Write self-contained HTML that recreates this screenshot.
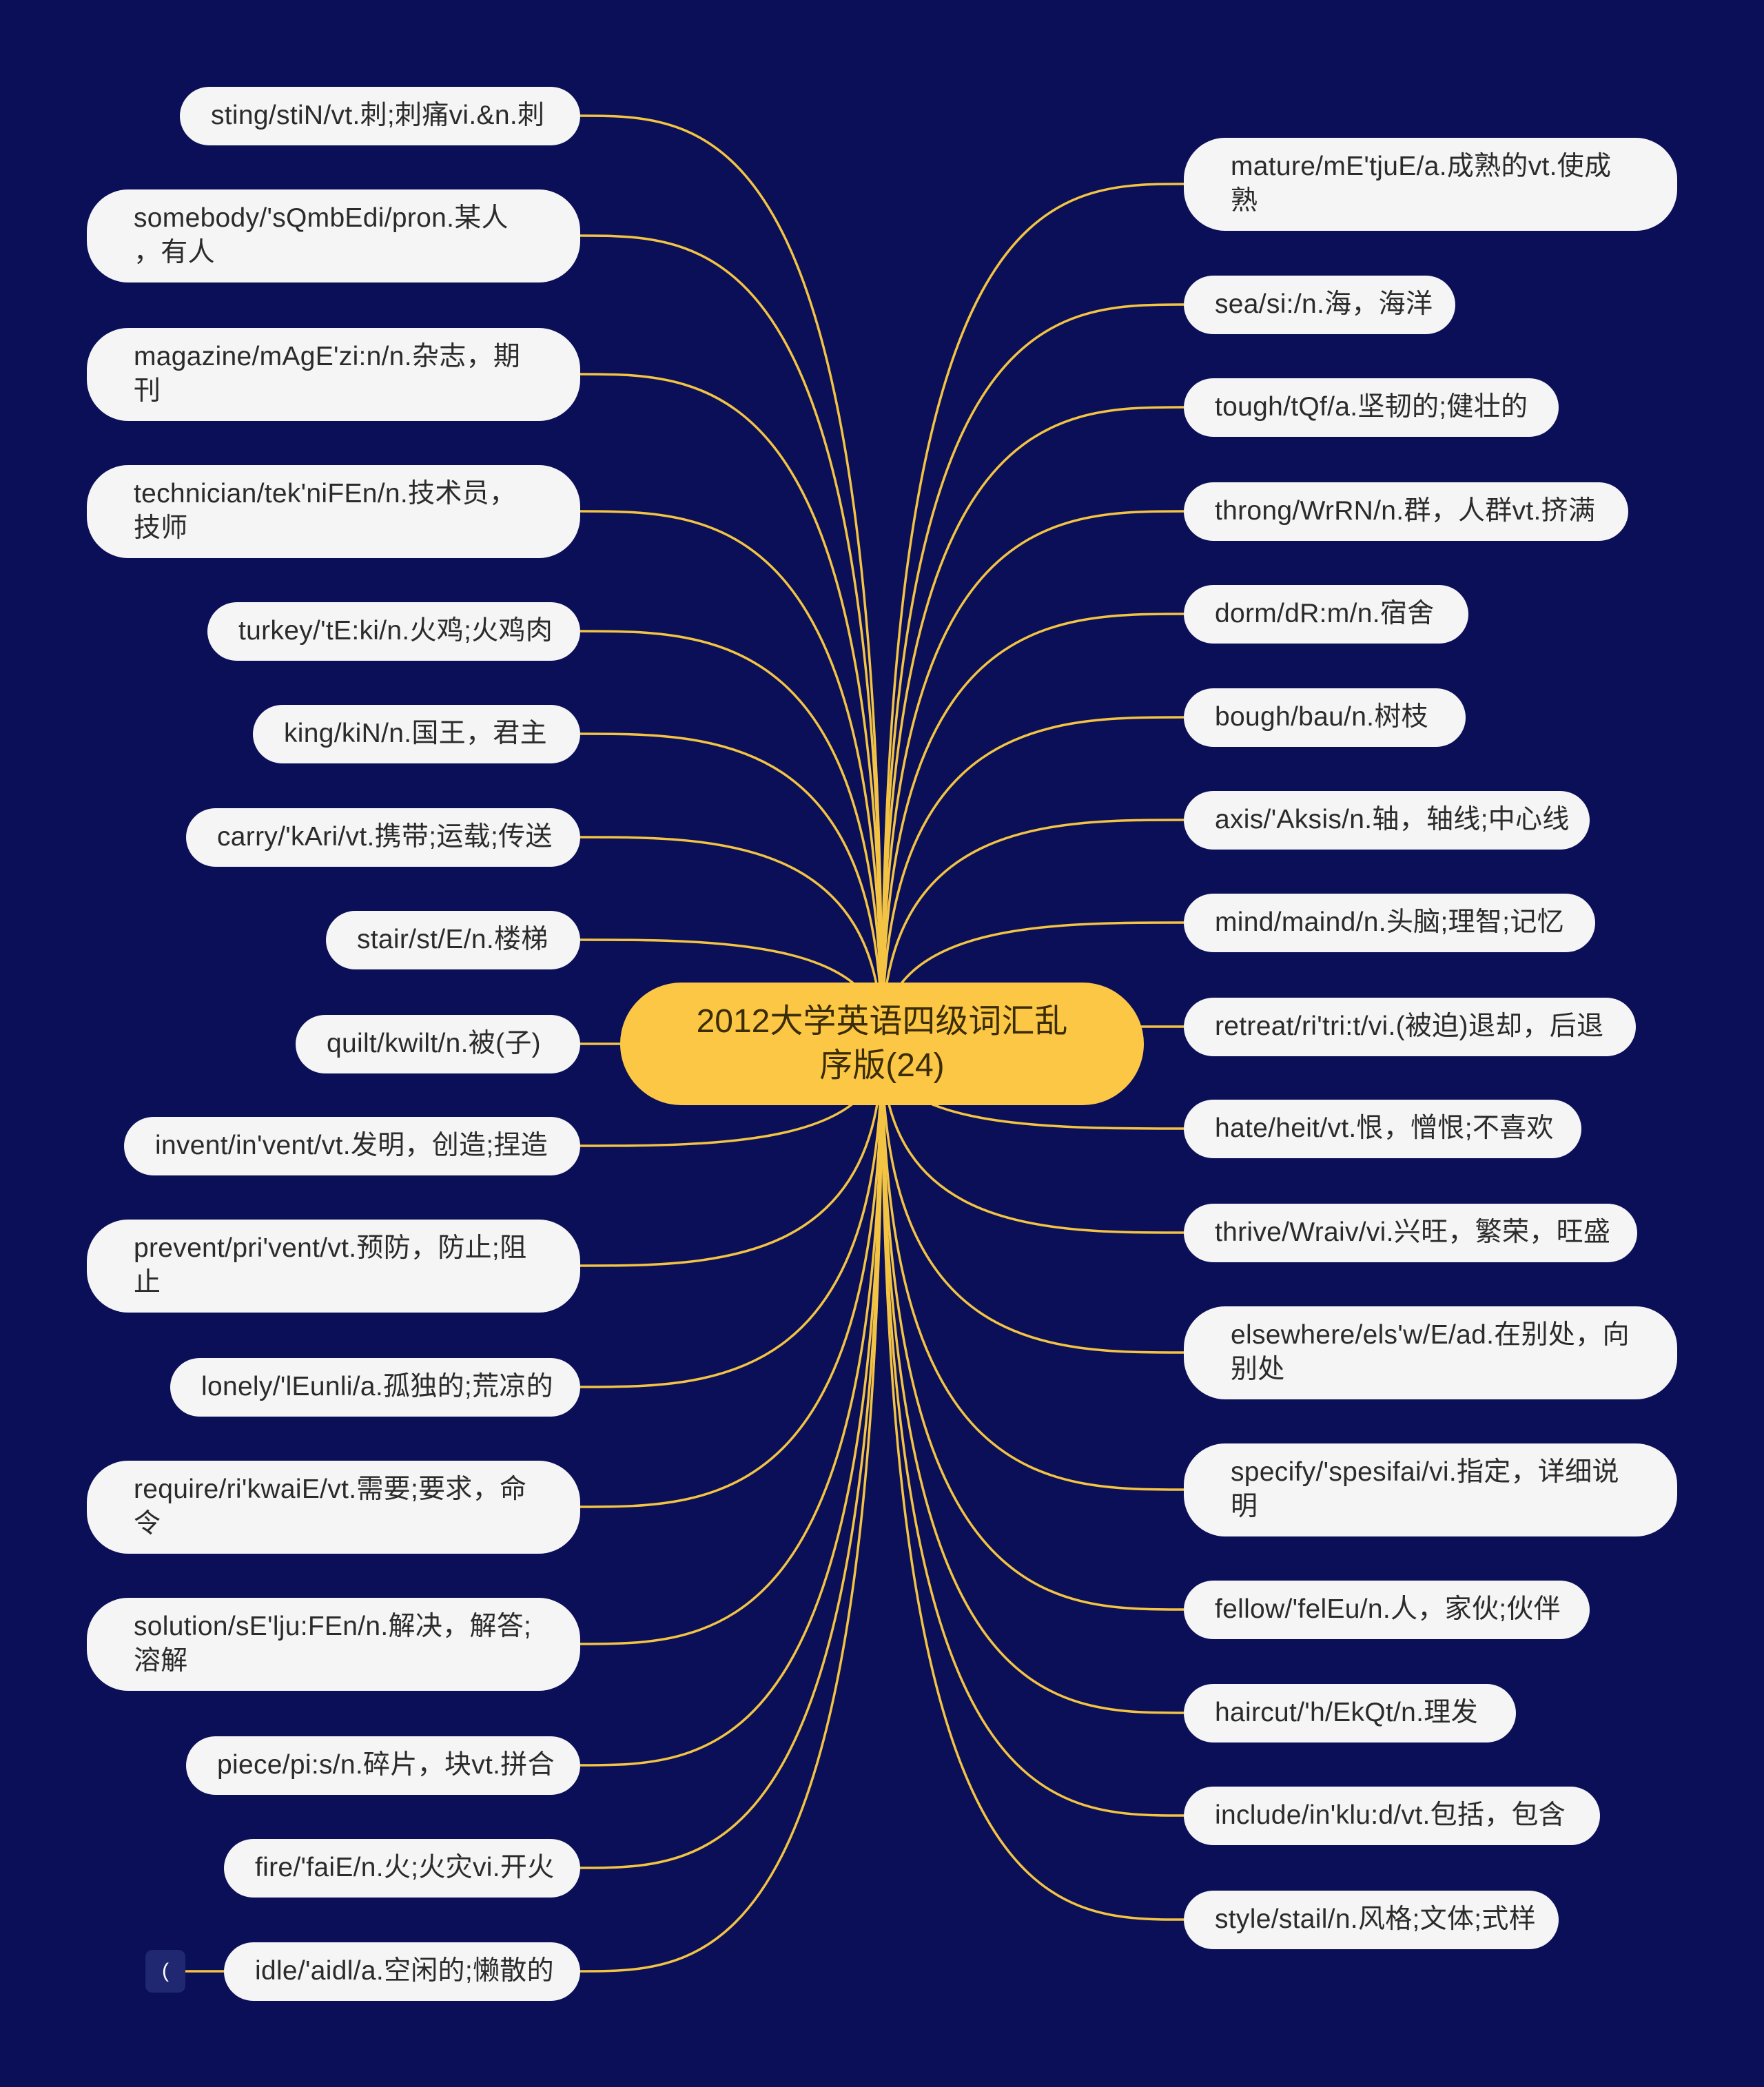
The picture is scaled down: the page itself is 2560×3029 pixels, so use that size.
<!DOCTYPE html>
<html><head><meta charset="utf-8"><style>
html,body{margin:0;padding:0}
body{width:2560px;height:3029px;background:#0b0f57;position:relative;overflow:hidden;font-family:"Liberation Sans","Noto Sans CJK SC",sans-serif}
.n{position:absolute;background:#f5f5f6;border-radius:45px;color:#2b2b2b;font-size:39px;letter-spacing:0.3px;line-height:50px;box-sizing:border-box;display:flex;align-items:center;white-space:nowrap}
.s{height:85px;padding-left:45px;border-radius:43px}
.d{height:135px;padding-left:68px;border-radius:60px}
.c{position:absolute;left:900px;top:1426px;width:760px;height:178px;background:#fdc746;border-radius:89px;color:#3a2c05;font-size:48px;line-height:64px;text-align:center;display:flex;align-items:center;justify-content:center}
svg{position:absolute;left:0;top:0}
</style></head><body>
<svg width="2560" height="3029" id="sv"></svg>
<div class="c">2012大学英语四级词汇乱<br>序版(24)</div>
<div style="position:absolute;left:211px;top:2830px;width:58px;height:62px;background:#1f2870;border-radius:10px;color:#fff;font-size:30px;display:flex;align-items:center;justify-content:center">(</div>
<div id="nodes"></div>
<script>
var L=[["sting/stiN/vt.刺;刺痛vi.&n.刺",261,168],["somebody/'sQmbEdi/pron.某人<br>，有人",126,342],["magazine/mAgE'zi:n/n.杂志，期<br>刊",126,543],["technician/tek'niFEn/n.技术员，<br>技师",126,742],["turkey/'tE:ki/n.火鸡;火鸡肉",301,916],["king/kiN/n.国王，君主",367,1065],["carry/'kAri/vt.携带;运载;传送",270,1215],["stair/st/E/n.楼梯",473,1364],["quilt/kwilt/n.被(子)",429,1515],["invent/in'vent/vt.发明，创造;捏造",180,1663],["prevent/pri'vent/vt.预防，防止;阻<br>止",126,1837],["lonely/'lEunli/a.孤独的;荒凉的",247,2013],["require/ri'kwaiE/vt.需要;要求，命<br>令",126,2187],["solution/sE'lju:FEn/n.解决，解答;<br>溶解",126,2386],["piece/pi:s/n.碎片，块vt.拼合",270,2562],["fire/'faiE/n.火;火灾vi.开火",325,2711],["idle/'aidl/a.空闲的;懒散的",325,2861]];
var R=[["mature/mE'tjuE/a.成熟的vt.使成<br>熟",2434,267],["sea/si:/n.海，海洋",2112,442],["tough/tQf/a.坚韧的;健壮的",2262,591],["throng/WrRN/n.群，人群vt.挤满",2363,742],["dorm/dR:m/n.宿舍",2131,891],["bough/bau/n.树枝",2127,1041],["axis/'Aksis/n.轴，轴线;中心线",2307,1190],["mind/maind/n.头脑;理智;记忆",2315,1339],["retreat/ri'tri:t/vi.(被迫)退却，后退",2374,1490],["hate/heit/vt.恨，憎恨;不喜欢",2295,1638],["thrive/Wraiv/vi.兴旺，繁荣，旺盛",2376,1789],["elsewhere/els'w/E/ad.在别处，向<br>别处",2434,1963],["specify/'spesifai/vi.指定，详细说<br>明",2434,2162],["fellow/'felEu/n.人，家伙;伙伴",2307,2336],["haircut/'h/EkQt/n.理发",2200,2486],["include/in'klu:d/vt.包括，包含",2322,2635],["style/stail/n.风格;文体;式样",2262,2786]];
var h="",p="";
function path(ex,cy){var sx=1280,sy=1515;var mx=sx+(ex-sx)*0.55;return '<path d="M'+sx+' '+sy+' C'+sx+' '+cy+' '+mx+' '+cy+' '+ex+' '+cy+'" fill="none" stroke="#f3c443" stroke-width="3.5"/>';}
L.forEach(function(a){var d=a[0].indexOf("<br>")>=0,H=d?135:85;h+='<div class="n '+(d?'d':'s')+'" style="left:'+a[1]+'px;width:'+(842-a[1])+'px;top:'+(a[2]-H/2)+'px">'+a[0]+'</div>';p+=path(842,a[2]);});
R.forEach(function(a){var d=a[0].indexOf("<br>")>=0,H=d?135:85;h+='<div class="n '+(d?'d':'s')+'" style="left:1718px;width:'+(a[1]-1718)+'px;top:'+(a[2]-H/2)+'px">'+a[0]+'</div>';p+=path(1718,a[2]);});
p+='<line x1="269" y1="2861" x2="325" y2="2861" stroke="#f3c443" stroke-width="3.5"/>';
document.getElementById("sv").innerHTML=p;document.getElementById("nodes").innerHTML=h;
</script>
</body></html>
